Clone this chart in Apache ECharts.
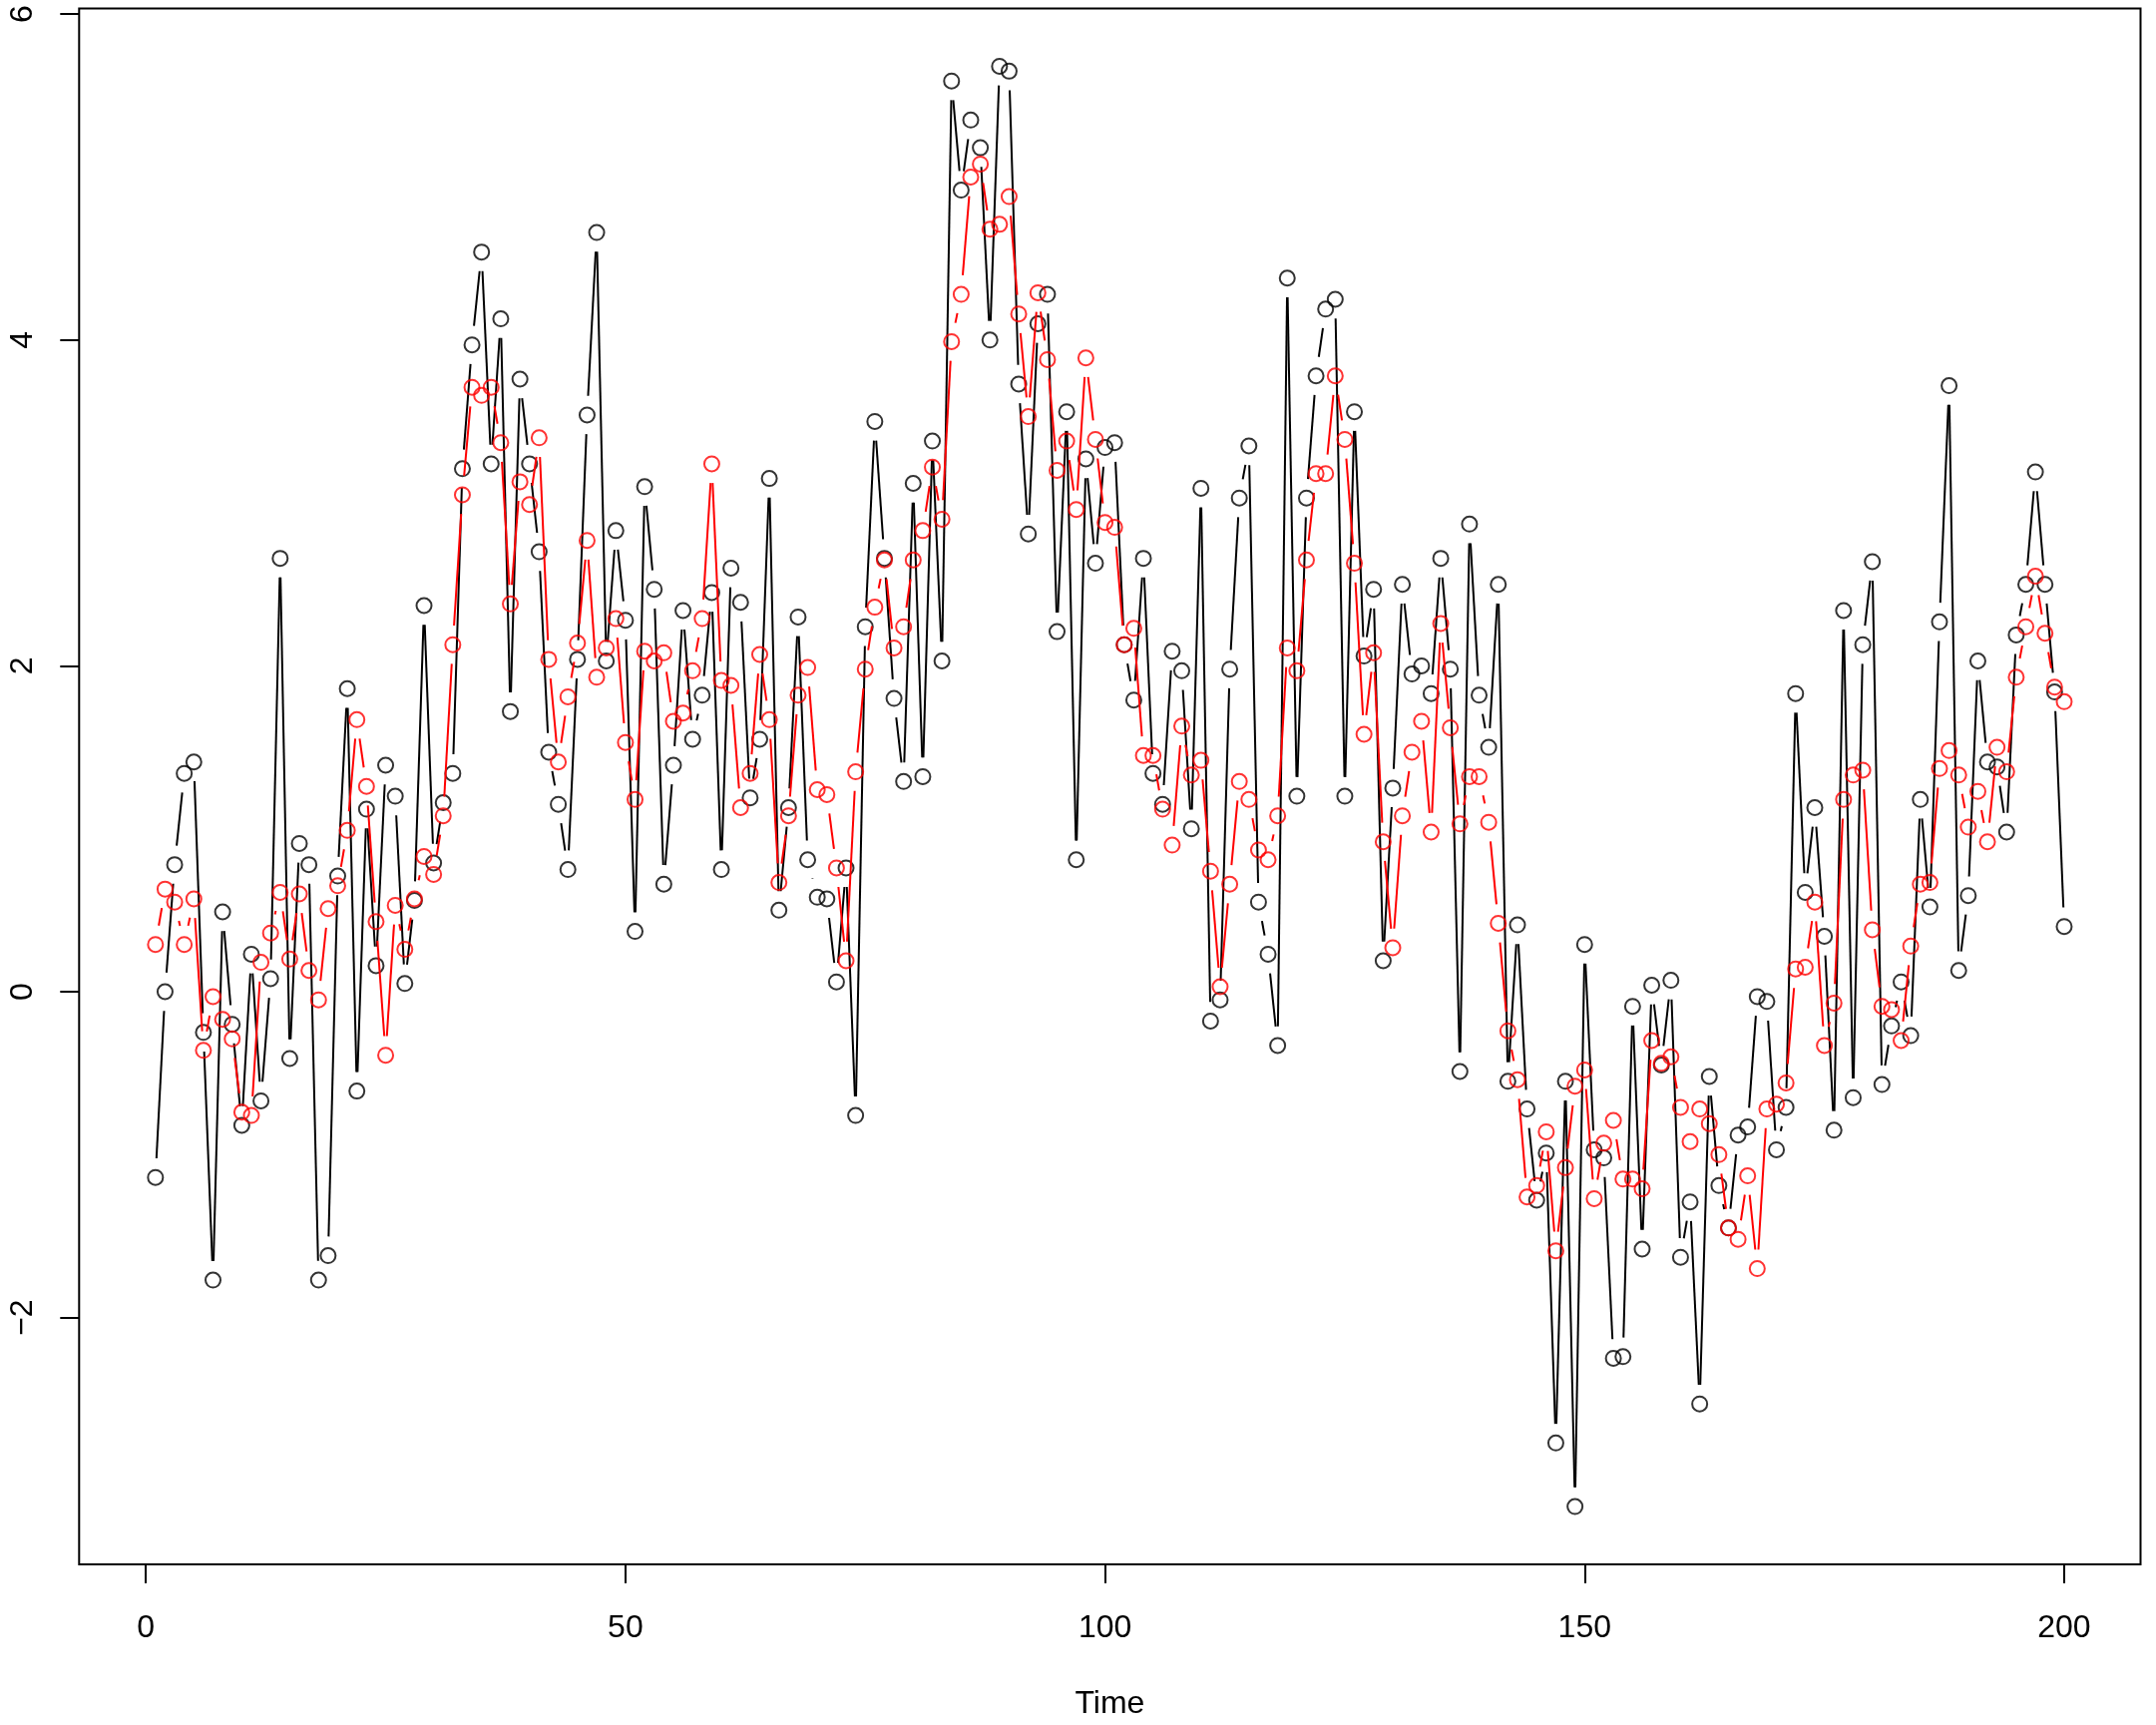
<!DOCTYPE html>
<html>
<head>
<meta charset="utf-8">
<script src="https://cdn.jsdelivr.net/npm/echarts@6/dist/echarts.min.js"></script>
<style>
html,body{margin:0;padding:0;background:#fff;}
#chart{width:2161px;height:1729px;}
</style>
</head>
<body>
<div id="chart"></div>
<script>
// Observed series (black)
var observed = [
 -1.14, 0.00, 0.78, 1.34, 1.41, -0.25, -1.77, 0.49, -0.20, -0.82,
 0.23, -0.67, 0.08, 2.66, -0.41, 0.91, 0.78, -1.77, -1.62, 0.71,
 1.86, -0.61, 1.12, 0.16, 1.39, 1.20, 0.05, 0.56, 2.37, 0.79,
 1.16, 1.34, 3.21, 3.97, 4.54, 3.24, 4.13, 1.72, 3.76, 3.24,
 2.70, 1.47, 1.15, 0.75, 2.04, 3.54, 4.66, 2.03, 2.83, 2.28,
 0.37, 3.10, 2.47, 0.66, 1.39, 2.34, 1.55, 1.82, 2.45, 0.75,
 2.60, 2.39, 1.19, 1.55, 3.15, 0.50, 1.13, 2.30, 0.81, 0.58,
 0.57, 0.06, 0.76, -0.76, 2.24, 3.50, 2.66, 1.80, 1.29, 3.12,
 1.32, 3.38, 2.03, 5.59, 4.92, 5.35, 5.18, 4.00, 5.68, 5.65,
 3.73, 2.81, 4.10, 4.28, 2.21, 3.56, 0.81, 3.27, 2.63, 3.34,
 3.37, 2.13, 1.79, 2.66, 1.34, 1.15, 2.09, 1.97, 1.00, 3.09,
 -0.18, -0.05, 1.98, 3.03, 3.35, 0.55, 0.23, -0.33, 4.38, 1.20,
 3.03, 3.78, 4.19, 4.25, 1.20, 3.56, 2.06, 2.47, 0.19, 1.25,
 2.50, 1.95, 2.00, 1.83, 2.66, 1.98, -0.49, 2.87, 1.82, 1.50,
 2.50, -0.55, 0.41, -0.72, -1.28, -0.99, -2.77, -0.55, -3.16, 0.29,
 -0.97, -1.02, -2.25, -2.24, -0.09, -1.58, 0.04, -0.45, 0.07, -1.63,
 -1.29, -2.53, -0.52, -1.19, -1.45, -0.88, -0.83, -0.03, -0.06, -0.97,
 -0.71, 1.83, 0.61, 1.13, 0.34, -0.85, 2.34, -0.65, 2.13, 2.64,
 -0.57, -0.21, 0.06, -0.27, 1.18, 0.52, 2.27, 3.72, 0.13, 0.59,
 2.03, 1.41, 1.38, 0.98, 2.19, 2.50, 3.19, 2.50, 1.84, 0.40
];
// Fitted series (red)
var fitted = [
 0.29, 0.63, 0.55, 0.29, 0.57, -0.36, -0.03, -0.17, -0.29, -0.74,
 -0.76, 0.18, 0.36, 0.61, 0.20, 0.60, 0.13, -0.05, 0.51, 0.65,
 0.99, 1.67, 1.26, 0.43, -0.39, 0.53, 0.26, 0.57, 0.83, 0.72,
 1.08, 2.13, 3.05, 3.71, 3.66, 3.71, 3.37, 2.38, 3.13, 2.99,
 3.40, 2.04, 1.41, 1.81, 2.14, 2.77, 1.93, 2.11, 2.29, 1.53,
 1.18, 2.09, 2.03, 2.08, 1.66, 1.71, 1.97, 2.29, 3.24, 1.91,
 1.88, 1.13, 1.34, 2.07, 1.67, 0.67, 1.08, 1.82, 1.99, 1.24,
 1.21, 0.76, 0.19, 1.35, 1.98, 2.36, 2.65, 2.11, 2.24, 2.65,
 2.83, 3.22, 2.90, 3.99, 4.28, 5.00, 5.08, 4.68, 4.71, 4.88,
 4.16, 3.53, 4.29, 3.88, 3.20, 3.38, 2.96, 3.89, 3.39, 2.88,
 2.85, 2.13, 2.23, 1.45, 1.45, 1.12, 0.90, 1.63, 1.33, 1.42,
 0.74, 0.03, 0.66, 1.29, 1.18, 0.87, 0.81, 1.08, 2.11, 1.97,
 2.65, 3.18, 3.18, 3.78, 3.39, 2.63, 1.58, 2.08, 0.92, 0.27,
 1.08, 1.47, 1.66, 0.98, 2.26, 1.62, 1.03, 1.32, 1.32, 1.04,
 0.42, -0.24, -0.54, -1.26, -1.19, -0.86, -1.59, -1.08, -0.58, -0.48,
 -1.27, -0.93, -0.79, -1.15, -1.15, -1.21, -0.30, -0.44, -0.40, -0.71,
 -0.92, -0.72, -0.81, -1.00, -1.45, -1.52, -1.13, -1.70, -0.72, -0.69,
 -0.56, 0.14, 0.15, 0.55, -0.33, -0.07, 1.18, 1.33, 1.36, 0.38,
 -0.09, -0.11, -0.30, 0.28, 0.66, 0.67, 1.37, 1.48, 1.33, 1.01,
 1.23, 0.92, 1.50, 1.35, 1.93, 2.24, 2.55, 2.20, 1.87, 1.78
];
var xTicks = [0, 50, 100, 150, 200];
var yTicks = [-2, 0, 2, 4, 6];
var xTitle = 'Time';

var timeIdx = [];
for (var i = 0; i < observed.length; i++) timeIdx.push(i + 1);

function pts(vals) { return vals.map(function (v, i) { return [timeIdx[i], v]; }); }
function segs(vals) {
  var out = [];
  for (var i = 0; i < vals.length - 1; i++) out.push([timeIdx[i], vals[i], timeIdx[i + 1], vals[i + 1]]);
  return out;
}
var GAP = 19.2;
function segRender(color) {
  return function (params, api) {
    var p1 = api.coord([api.value(0), api.value(1)]);
    var p2 = api.coord([api.value(2), api.value(3)]);
    var dx = p2[0] - p1[0], dy = p2[1] - p1[1];
    var L = Math.sqrt(dx * dx + dy * dy);
    if (L <= 2 * GAP) return null;
    var f = GAP / L;
    return {
      type: 'line',
      shape: { x1: p1[0] + f * dx, y1: p1[1] + f * dy, x2: p2[0] - f * dx, y2: p2[1] - f * dy },
      style: { stroke: color, lineWidth: 2, lineCap: 'butt' },
      silent: true
    };
  };
}

var FONT = '"Liberation Sans", Arial, Helvetica, sans-serif';
var chart = echarts.init(document.getElementById('chart'), null, { renderer: 'canvas' });
chart.setOption({
  animation: false,
  backgroundColor: '#ffffff',
  grid: { left: 79.3, top: 8.5, right: 15.5, bottom: 154.3, show: true, borderColor: '#000', borderWidth: 2, backgroundColor: 'transparent' },
  xAxis: {
    type: 'value', min: -6.96, max: 207.96,
    name: xTitle, nameLocation: 'middle', nameGap: 124,
    nameTextStyle: { fontFamily: FONT, fontSize: 32, color: '#000' },
    axisLine: { show: false, onZero: false },
    splitLine: { show: false },
    axisTick: { show: true, inside: false, length: 19, customValues: xTicks, lineStyle: { color: '#000', width: 2 } },
    axisLabel: { show: true, customValues: xTicks, margin: 48, fontFamily: FONT, fontSize: 32, color: '#000' }
  },
  yAxis: {
    type: 'value', min: -3.515, max: 6.035,
    axisLine: { show: false, onZero: false },
    splitLine: { show: false },
    axisTick: { show: true, inside: false, length: 19, customValues: yTicks, lineStyle: { color: '#000', width: 2 } },
    axisLabel: {
      show: true, customValues: yTicks, rotate: 90, margin: 40, fontFamily: FONT, fontSize: 32, color: '#000',
      formatter: function (v) { return (v < 0 ? '\u2212' : '') + Math.abs(v); }
    }
  },
  series: [
    { type: 'custom', renderItem: segRender('#000000'), data: segs(observed), encode: { x: [0, 2], y: [1, 3] }, z: 2, silent: true },
    { type: 'scatter', data: pts(observed), symbol: 'circle', symbolSize: 15, itemStyle: { color: 'transparent', borderColor: '#000000', borderWidth: 2 }, z: 3, silent: true },
    { type: 'custom', renderItem: segRender('#ff0000'), data: segs(fitted), encode: { x: [0, 2], y: [1, 3] }, z: 4, silent: true },
    { type: 'scatter', data: pts(fitted), symbol: 'circle', symbolSize: 15, itemStyle: { color: 'transparent', borderColor: '#ff0000', borderWidth: 2 }, z: 5, silent: true }
  ]
});
</script>
</body>
</html>
